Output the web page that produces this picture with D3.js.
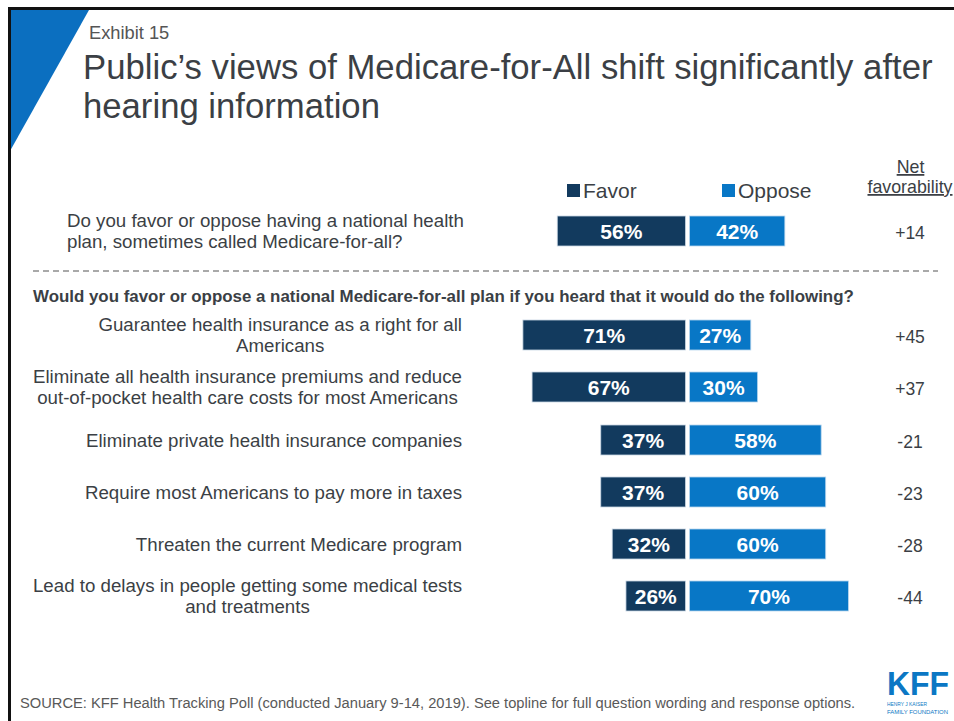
<!DOCTYPE html>
<html>
<head>
<meta charset="utf-8">
<script src="https://cdn.jsdelivr.net/npm/d3@7/dist/d3.min.js"></script>
<style>
  html, body { margin: 0; padding: 0; background: #fff; }
  svg { display: block; font-family: "Liberation Sans", Arial, sans-serif; }
</style>
</head>
<body>
<svg id="chart" width="954" height="721"></svg>
<script>
// ---- data ----
const questions = [
  ["Do you favor or oppose having a national health", "plan, sometimes called Medicare-for-all?"],
  ["Guarantee health insurance as a right for all", "Americans"],
  ["Eliminate all health insurance premiums and reduce", "out-of-pocket health care costs for most Americans"],
  ["Eliminate private health insurance companies"],
  ["Require most Americans to pay more in taxes"],
  ["Threaten the current Medicare program"],
  ["Lead to delays in people getting some medical tests", "and treatments"]
];
const favor  = [56, 71, 67, 37, 37, 32, 26];
const oppose = [42, 27, 30, 58, 60, 60, 70];
const netFav = ["+14", "+45", "+37", "-21", "-23", "-28", "-44"];
const seriesNames = ["Favor", "Oppose"];

const C_FAVOR = "#123a5e";
const C_OPPOSE = "#0877c6";
const C_TEXT = "#3b3f45";

const svg = d3.select("#chart");

// slide frame and corner accent
svg.append("path")
  .attr("d", "M10,10 L89,10 L10,151 Z")
  .attr("fill", "#0b6fc0");
svg.append("line").attr("x1", 8).attr("x2", 954).attr("y1", 8.5).attr("y2", 8.5)
  .attr("stroke", "#111").attr("stroke-width", 3);
svg.append("line").attr("x1", 9.5).attr("x2", 9.5).attr("y1", 7).attr("y2", 721)
  .attr("stroke", "#111").attr("stroke-width", 3);

// heading
svg.append("text").attr("x", 89).attr("y", 39)
  .attr("font-size", 18.3).attr("fill", "#555").text("Exhibit 15");
svg.append("text").attr("x", 83).attr("y", 79)
  .attr("font-size", 34.7).attr("fill", C_TEXT)
  .text("Public’s views of Medicare-for-All shift significantly after");
svg.append("text").attr("x", 83).attr("y", 118)
  .attr("font-size", 34.7).attr("fill", C_TEXT)
  .text("hearing information");

// scales
const idx = d3.range(questions.length);
const rowCenters = [231, 335, 387, 440, 492, 544, 596];
const y = d3.scaleOrdinal().domain(idx).range(rowCenters);
const barH = 30;
const zeroX = 685.5;
const gap = 4;
const xFav = d3.scaleLinear().domain([0, 100]).range([zeroX, zeroX - 229]);
const xOpp = d3.scaleLinear().domain([0, 100]).range([zeroX + gap, zeroX + gap + 227]);

// legend
const legend = [
  { name: seriesNames[0], color: C_FAVOR, x: 567 },
  { name: seriesNames[1], color: C_OPPOSE, x: 722 }
];
const lg = svg.append("g");
lg.selectAll("rect").data(legend).join("rect")
  .attr("x", d => d.x).attr("y", 184).attr("width", 13).attr("height", 13)
  .attr("fill", d => d.color);
lg.selectAll("text").data(legend).join("text")
  .attr("x", d => d.x + 16).attr("y", 198)
  .attr("font-size", 21).attr("fill", C_TEXT).text(d => d.name);

// net favorability header
const nh = svg.append("g").attr("fill", C_TEXT).attr("font-size", 17.8).attr("text-anchor", "middle");
nh.append("text").attr("x", 910.5).attr("y", 173).attr("text-decoration", "underline").text("Net");
nh.append("text").attr("x", 910).attr("y", 193).attr("text-decoration", "underline").text("favorability");

// bars
const rows = svg.append("g");
rows.selectAll("rect.fav").data(idx).join("rect").attr("class", "fav")
  .attr("x", i => xFav(favor[i])).attr("y", i => y(i) - barH / 2)
  .attr("width", i => xFav(0) - xFav(favor[i])).attr("height", barH)
  .attr("fill", C_FAVOR).attr("stroke", "#c9d6e3").attr("stroke-width", 0.8);
rows.selectAll("rect.opp").data(idx).join("rect").attr("class", "opp")
  .attr("x", xOpp(0)).attr("y", i => y(i) - barH / 2)
  .attr("width", i => xOpp(oppose[i]) - xOpp(0)).attr("height", barH)
  .attr("fill", C_OPPOSE).attr("stroke", "#b8d6ee").attr("stroke-width", 0.8);

// value labels
rows.selectAll("text.fv").data(idx).join("text").attr("class", "fv")
  .attr("x", i => (xFav(favor[i]) + xFav(0)) / 2).attr("y", i => y(i) + 7.5)
  .attr("text-anchor", "middle").attr("font-weight", "bold").attr("font-size", 21)
  .attr("fill", "#fff").text(i => favor[i] + "%");
rows.selectAll("text.ov").data(idx).join("text").attr("class", "ov")
  .attr("x", i => (xOpp(oppose[i]) + xOpp(0)) / 2).attr("y", i => y(i) + 7.5)
  .attr("text-anchor", "middle").attr("font-weight", "bold").attr("font-size", 21)
  .attr("fill", "#fff").text(i => oppose[i] + "%");

// net values
rows.selectAll("text.net").data(idx).join("text").attr("class", "net")
  .attr("x", 910).attr("y", i => y(i) + 8)
  .attr("text-anchor", "middle").attr("font-size", 17.5).attr("fill", C_TEXT)
  .text(i => netFav[i]);

// question labels: first is left-aligned, rest are centered blocks flush right
const labelRight = 462;
const lineH = 21;
idx.forEach(i => {
  const lines = questions[i];
  const g = svg.append("g").attr("font-size", 18.7).attr("fill", C_TEXT);
  const top = y(i) - (lines.length - 1) * lineH / 2 + 6.5;
  if (i === 0) {
    lines.forEach((s, k) => g.append("text").attr("x", 67).attr("y", top + k * lineH).text(s));
  } else {
    const ts = lines.map((s, k) => g.append("text").attr("y", top + k * lineH).text(s));
    const maxW = d3.max(ts, t => t.node().getComputedTextLength());
    ts.forEach(t => t.attr("text-anchor", "middle").attr("x", labelRight - maxW / 2));
  }
});

// divider and sub-heading
svg.append("line").attr("x1", 33).attr("x2", 938).attr("y1", 271).attr("y2", 271)
  .attr("stroke", "#555").attr("stroke-width", 1.2).attr("stroke-dasharray", "6,4");
svg.append("text").attr("x", 33).attr("y", 302)
  .attr("font-size", 16.9).attr("font-weight", "bold").attr("fill", C_TEXT)
  .text("Would you favor or oppose a national Medicare-for-all plan if you heard that it would do the following?");

// source
svg.append("text").attr("x", 20).attr("y", 708)
  .attr("font-size", 14.7).attr("fill", "#595959")
  .text("SOURCE: KFF Health Tracking Poll (conducted January 9-14, 2019). See topline for full question wording and response options.");

// logo
const logo = svg.append("g").attr("fill", "#0b77c4");
logo.append("text").attr("x", 887).attr("y", 695)
  .attr("font-size", 34).attr("font-weight", "bold").attr("textLength", 62)
  .attr("lengthAdjust", "spacingAndGlyphs").text("KFF");
logo.append("text").attr("x", 887).attr("y", 706).attr("font-size", 6)
  .attr("textLength", 40).attr("lengthAdjust", "spacingAndGlyphs").text("HENRY J KAISER");
logo.append("text").attr("x", 887).attr("y", 714).attr("font-size", 6)
  .attr("textLength", 61).attr("lengthAdjust", "spacingAndGlyphs").text("FAMILY FOUNDATION");
</script>
</body>
</html>
